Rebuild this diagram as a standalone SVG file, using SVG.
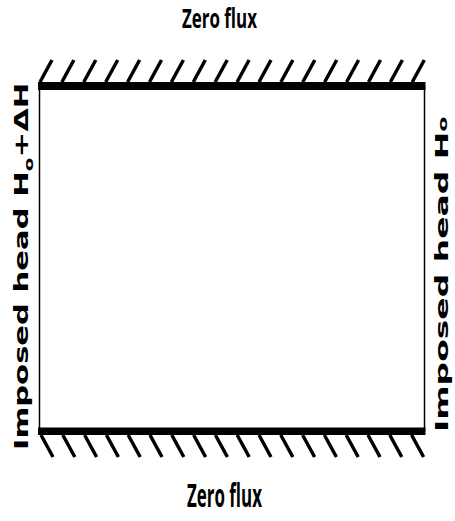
<svg xmlns="http://www.w3.org/2000/svg" width="455" height="521" viewBox="0 0 455 521">
<style>
.bar{fill:#000}
.side{stroke:#000;stroke-width:1.5;fill:none}
.hatch{stroke:#000;stroke-width:3.5;stroke-linecap:butt}
.flux{font-family:"Open Sans","Liberation Sans",sans-serif;font-weight:bold;fill:#000}
.head{font-family:"DejaVu Sans","Verdana",sans-serif;font-weight:bold;fill:#000}
</style>
<rect width="455" height="521" fill="#fff"/>
<g id="domain">
<line class="side" x1="39.5" y1="86" x2="39.5" y2="431"/>
<line class="side" x1="424.5" y1="86" x2="424.5" y2="431"/>
<rect class="bar" x="38" y="82" width="387.5" height="8"/>
<rect class="bar" x="38" y="427.5" width="387.5" height="7.5"/>
</g>
<g id="top-hatch" class="hatch">
<path d="M40,82L52,60M61.9,82L73.9,60M83.8,82L95.8,60M105.7,82L117.7,60M127.6,82L139.6,60M149.5,82L161.5,60M171.4,82L183.4,60M193.3,82L205.3,60M215.2,82L227.2,60M237.1,82L249.1,60M259,82L271,60M280.9,82L292.9,60M302.8,82L314.8,60M324.7,82L336.7,60M346.6,82L358.6,60M368.5,82L380.5,60M390.4,82L402.4,60M412.3,82L424.3,60"/>
</g>
<g id="bottom-hatch" class="hatch">
<path d="M41,435L53,457M62.8,435L74.8,457M84.6,435L96.6,457M106.4,435L118.4,457M128.2,435L140.2,457M150,435L162,457M171.8,435L183.8,457M193.6,435L205.6,457M215.4,435L227.4,457M237.2,435L249.2,457M259,435L271,457M280.8,435L292.8,457M302.6,435L314.6,457M324.4,435L336.4,457M346.2,435L358.2,457M368,435L380,457M389.8,435L401.8,457M411.6,435L423.6,457"/>
</g>
<g id="label-top">
<text class="flux" x="182" y="28" font-size="26" textLength="75" lengthAdjust="spacingAndGlyphs">Zero flux</text>
</g>
<g id="label-bottom">
<text class="flux" x="187" y="507" font-size="32" textLength="75" lengthAdjust="spacingAndGlyphs">Zero flux</text>
</g>
<g id="label-left">
<text class="head" font-size="20" transform="translate(28,450) rotate(-90) scale(1.53,1)">Imposed head H<tspan font-size="13" dy="5">o</tspan><tspan dy="-5">+ΔH</tspan></text>
</g>
<g id="label-right">
<text class="head" font-size="18" transform="translate(448,432) rotate(-90) scale(1.83,1)">Imposed head H<tspan font-size="12" dy="-1">o</tspan></text>
</g>
</svg>
